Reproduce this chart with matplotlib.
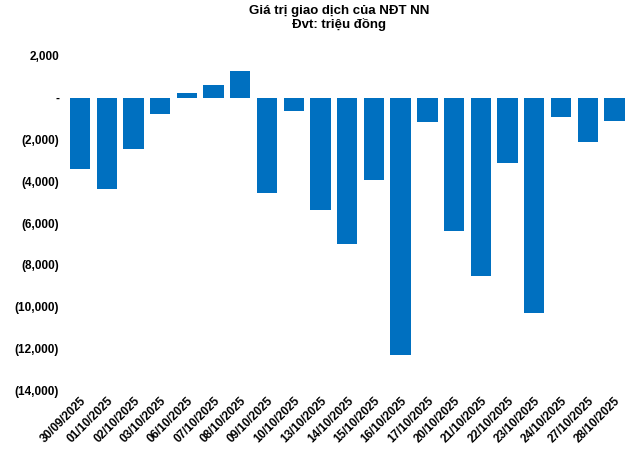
import matplotlib
matplotlib.use("Agg")
import matplotlib.pyplot as plt
from matplotlib.ticker import FuncFormatter

dates = ["30/09/2025","01/10/2025","02/10/2025","03/10/2025","06/10/2025","07/10/2025",
         "08/10/2025","09/10/2025","10/10/2025","13/10/2025","14/10/2025","15/10/2025",
         "16/10/2025","17/10/2025","20/10/2025","21/10/2025","22/10/2025","23/10/2025",
         "24/10/2025","27/10/2025","28/10/2025"]
values = [-3400,-4350,-2450,-800,240,620,1290,-4550,-620,-5400,-7000,-3930,
          -12300,-1150,-6360,-8520,-3110,-10330,-910,-2100,-1100]

plt.rcParams['font.family'] = ['Liberation Sans', 'DejaVu Sans']
fig = plt.figure(figsize=(6.4, 4.51), dpi=100)
ax = fig.add_axes([0.1, 0.135, 0.885, 0.741])
x = range(len(dates))
ax.bar(x, values, width=0.76, color='#0070C0')
ax.set_ylim(-14000, 2000)
ax.set_xlim(-0.6, len(dates) - 0.4)
ax.set_yticks(range(-14000, 2001, 2000))
def fmt(v, p):
    v = int(round(v))
    if v == 0:
        return "-"
    return f"({abs(v):,})" if v < 0 else f"{v:,}"
ax.yaxis.set_major_formatter(FuncFormatter(fmt))
ax.set_xticks(list(x))
ax.set_xticklabels(dates, rotation=45, ha='right', rotation_mode='anchor', fontsize=8.5, fontweight='bold')
for t in ax.get_yticklabels():
    t.set_fontsize(8.5); t.set_fontweight('bold')
for s in ax.spines.values():
    s.set_visible(False)
ax.tick_params(length=0)
fig.text(0.53, 0.99, "Giá trị giao dịch của NĐT NN\nĐvt: triệu đồng", ha='center', va='top',
         fontsize=9.5, fontweight='bold', linespacing=1.1)
fig.savefig("out.png", dpi=100)
